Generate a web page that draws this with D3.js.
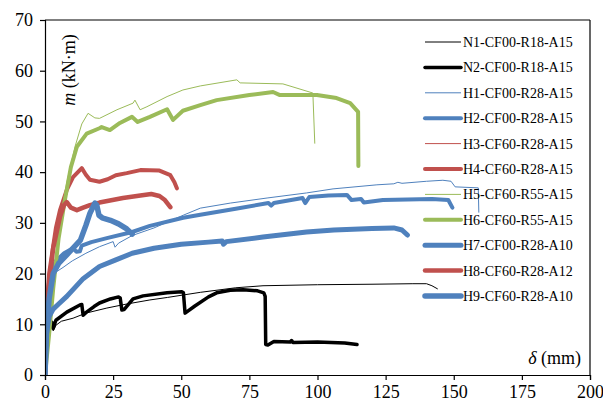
<!DOCTYPE html>
<html><head><meta charset="utf-8">
<script src="https://cdn.jsdelivr.net/npm/d3@7"></script>
<style>body{margin:0;background:#fff}svg{display:block}text{font-family:"Liberation Serif","Times New Roman",serif;fill:#000}</style>
</head><body><svg id="c" width="603" height="403" font-family="Liberation Serif, serif"></svg>
<script>
const seriesNames = ["N1-CF00-R18-A15","N2-CF00-R18-A15","H1-CF00-R28-A15","H2-CF00-R28-A15","H3-CF60-R28-A15","H4-CF60-R28-A15","H5-CF60-R55-A15","H6-CF60-R55-A15","H7-CF00-R28-A10","H8-CF60-R28-A12","H9-CF60-R28-A10"];
const xTicks = [0,25,50,75,100,125,150,175,200];
const yTicks = [0,10,20,30,40,50,60,70];

const N1 = [[0,0],[1,6],[2,8.8],[2.6,9.9],[3,8.7],[4,9.8],[6,10.6],[10.3,11.2],[15,12.2],[22.7,13.2],[30,14],[38.5,14.8],[45,15.3],[57,16.3],[70,17.2],[80,17.6],[100,17.8],[120,17.9],[135,18.0],[140,18.0],[142,17.6],[144,17.0]];
const N2 = [[0,0],[0.5,5],[1,9],[1.8,10.4],[2.5,10.4],[3,9.2],[4,10.8],[8,12.4],[12.8,13.8],[13.5,13.9],[14,11.8],[15,12.3],[18,13.5],[20,14.2],[24,15],[27,15.4],[27.6,15.2],[28.2,12.8],[29,12.9],[32.3,15],[36,15.6],[44.8,16.2],[50.2,16.4],[50.8,16.2],[51.4,12.2],[55,13.6],[60,15.4],[63,16.2],[68,16.7],[72.7,16.8],[78,16.6],[80.3,16.2],[80.8,15.5],[81,6.0],[81.8,5.9],[84,6.6],[90,6.5],[90.5,6.8],[91,6.4],[100,6.5],[110,6.3],[114.5,6.0]];
const H1 = [[0,0],[0.3,8],[1,14],[2,18],[4,20.3],[6.6,21.2],[10,22.5],[15,24],[20,25.3],[25,26.3],[25.7,25.2],[27,26],[32,27.5],[40,29],[50.7,31.5],[57,32.9],[68,33.9],[81.5,34.9],[96,35.9],[105.7,36.7],[121.8,37.5],[128,37.7],[129.5,38],[131,37.8],[140,38.2],[146,38.4],[149,38.2],[150.5,37.1],[159,36.9],[159.2,32.1]];
const H2 = [[0,0],[0.3,8],[1,15],[1.8,20],[4,22.5],[7,24],[10.3,25],[11.5,24.3],[12.8,24.4],[13.5,25.5],[17,26.2],[22.7,27],[32,28.2],[38.5,29.4],[50.7,31],[57,31.6],[70,32.8],[82,33.9],[83,33.4],[84,33.9],[94.5,34.9],[95.5,33.9],[97,35.1],[104,35.4],[110.8,35.5],[112.5,34.5],[116,34.7],[117,34],[124,34.5],[142,34.7],[148,34.5],[149.5,33]];
const H3 = [[0,0],[0.5,12],[1.5,20],[4,28],[7,34]];
const H4 = [[0,0],[0.5,12],[1.5,20],[4,29],[5.5,32.5],[8,36.5],[10.3,39],[13.5,40.8],[15,39.5],[16.5,38.5],[20,38.1],[23,38.6],[26,39.4],[30,39.8],[35,40.4],[42,40.3],[46,39.4],[47.5,38],[48.4,36.8]];
const H5 = [[0,0],[1.5,8],[3,18],[5,29],[8,38],[11,45],[13.5,49.5],[15.8,51.6],[18.3,50.7],[20,50.6],[26.4,52.3],[32.3,53.6],[33,54.2],[34.9,52.3],[37.4,52.9],[44.8,54.9],[50.6,56.2],[57,57],[70.4,58.2],[71.6,57.6],[87.3,57.4],[91,56.8],[98.3,55.6],[99,45.7]];
const H6 = [[0,0],[1.5,8],[3,17],[5,27],[7.3,34.5],[9.5,41],[11.7,45],[15.3,47.6],[20.2,48.7],[20.8,48.9],[23.8,48.3],[27.5,49.7],[31.9,50.9],[34,49.9],[38.5,50.9],[44.8,52.4],[47,50.3],[50.6,52.1],[57,53.2],[63,54.2],[75,55.2],[83.7,55.8],[86.2,55.2],[99.8,55.2],[107,54.6],[112,53.6],[114.9,51.9],[115,41.2]];
const H7 = [[0,0],[0.5,8],[1.5,11.5],[3,13],[5,14],[8,15.5],[14,19],[20,21.4],[26,22.7],[32,24],[40,25],[50,25.8],[60,26.2],[65,26.4],[65.5,25.8],[66.5,26.3],[80,27.2],[96,28.2],[106,28.6],[120,28.9],[128,29],[131,28.6],[133,27.6]];
const H8 = [[0,0],[0.5,10],[1.5,18],[3,25],[5.5,31.2],[7,33.5],[8,34.1],[9.5,33],[11.7,32.5],[14,33],[16.5,33.5],[20,34],[28.6,34.9],[35,35.4],[39,35.7],[42,35.3],[44,34.5],[46,33.1]];
const H9 = [[0,0],[0.5,8],[1.5,15],[3,20],[5,22],[8,23.7],[13,26.6],[15,29.5],[16.5,31.9],[18.3,33.9],[19,33.5],[19.8,31.5],[21,31],[24,30.5],[27,29.8],[30,28.8],[32,27.8]];

const blue="#4F81BD", red="#C0504D", green="#9BBB59", black="#000";
const series = [
  {name:seriesNames[0], data:N1, color:black, w:1},
  {name:seriesNames[1], data:N2, color:black, w:3.5},
  {name:seriesNames[2], data:H1, color:blue, w:1},
  {name:seriesNames[3], data:H2, color:blue, w:4},
  {name:seriesNames[4], data:H3, color:red, w:1},
  {name:seriesNames[5], data:H4, color:red, w:4},
  {name:seriesNames[6], data:H5, color:green, w:1},
  {name:seriesNames[7], data:H6, color:green, w:4},
  {name:seriesNames[8], data:H7, color:blue, w:5},
  {name:seriesNames[9], data:H8, color:red, w:4.5},
  {name:seriesNames[10], data:H9, color:blue, w:5.5}
];

const svg = d3.select("#c");
const L=45, R=590, T=20, B=375;
const x = d3.scaleLinear().domain([0,200]).range([L,R]);
const y = d3.scaleLinear().domain([0,70]).range([B,T]);

svg.append("defs").append("clipPath").attr("id","clip").append("rect").attr("x",L).attr("y",T).attr("width",R-L).attr("height",B-T);

svg.append("line").attr("x1",L).attr("x2",R).attr("y1",T).attr("y2",T).attr("stroke","#000").attr("stroke-width",1.2);
svg.append("line").attr("x1",R).attr("x2",R).attr("y1",T).attr("y2",B).attr("stroke","#000").attr("stroke-width",1.2);

const line = d3.line().x(d=>x(d[0])).y(d=>y(d[1]));
const g = svg.append("g").attr("clip-path","url(#clip)");
series.forEach(s=>{
  g.append("path").datum(s.data).attr("d",line).attr("fill","none")
   .attr("stroke",s.color).attr("stroke-width",s.w)
   .attr("stroke-linejoin","round").attr("stroke-linecap","round");
});

const xa = svg.append("g").attr("transform",`translate(0,${B})`)
  .call(d3.axisBottom(x).tickValues(xTicks).tickSize(5).tickPadding(5).tickFormat(d3.format("d")));
const ya = svg.append("g").attr("transform",`translate(${L},0)`)
  .call(d3.axisLeft(y).tickValues(yTicks).tickSize(5).tickPadding(7).tickFormat(d3.format("d")));
[xa,ya].forEach(a=>{
  a.attr("font-family","Liberation Serif, serif");
  a.selectAll("path,line").attr("stroke","#000").attr("stroke-width",1.2);
  a.selectAll("text").style("font-size","18px").attr("fill","#000");
});

const yt = svg.append("text").attr("transform","translate(75,70) rotate(-90)").attr("text-anchor","middle").style("font-size","18px");
yt.append("tspan").style("font-style","italic").text("m");
yt.append("tspan").text(" (kN·m)");
const xt = svg.append("text").attr("x",581).attr("y",364).attr("text-anchor","end").style("font-size","18px");
xt.append("tspan").style("font-style","italic").text("δ");
xt.append("tspan").text(" (mm)");

const lg = svg.append("g");
series.forEach((s,i)=>{
  const yy = 42 + i*25.4;
  lg.append("line").attr("x1",425).attr("x2",461).attr("y1",yy).attr("y2",yy)
    .attr("stroke",s.color).attr("stroke-width",s.w).attr("stroke-linecap", s.w>2?"round":"butt");
  lg.append("text").attr("x",463).attr("y",yy+5).style("font-size","14px").text(s.name);
});
</script></body></html>
